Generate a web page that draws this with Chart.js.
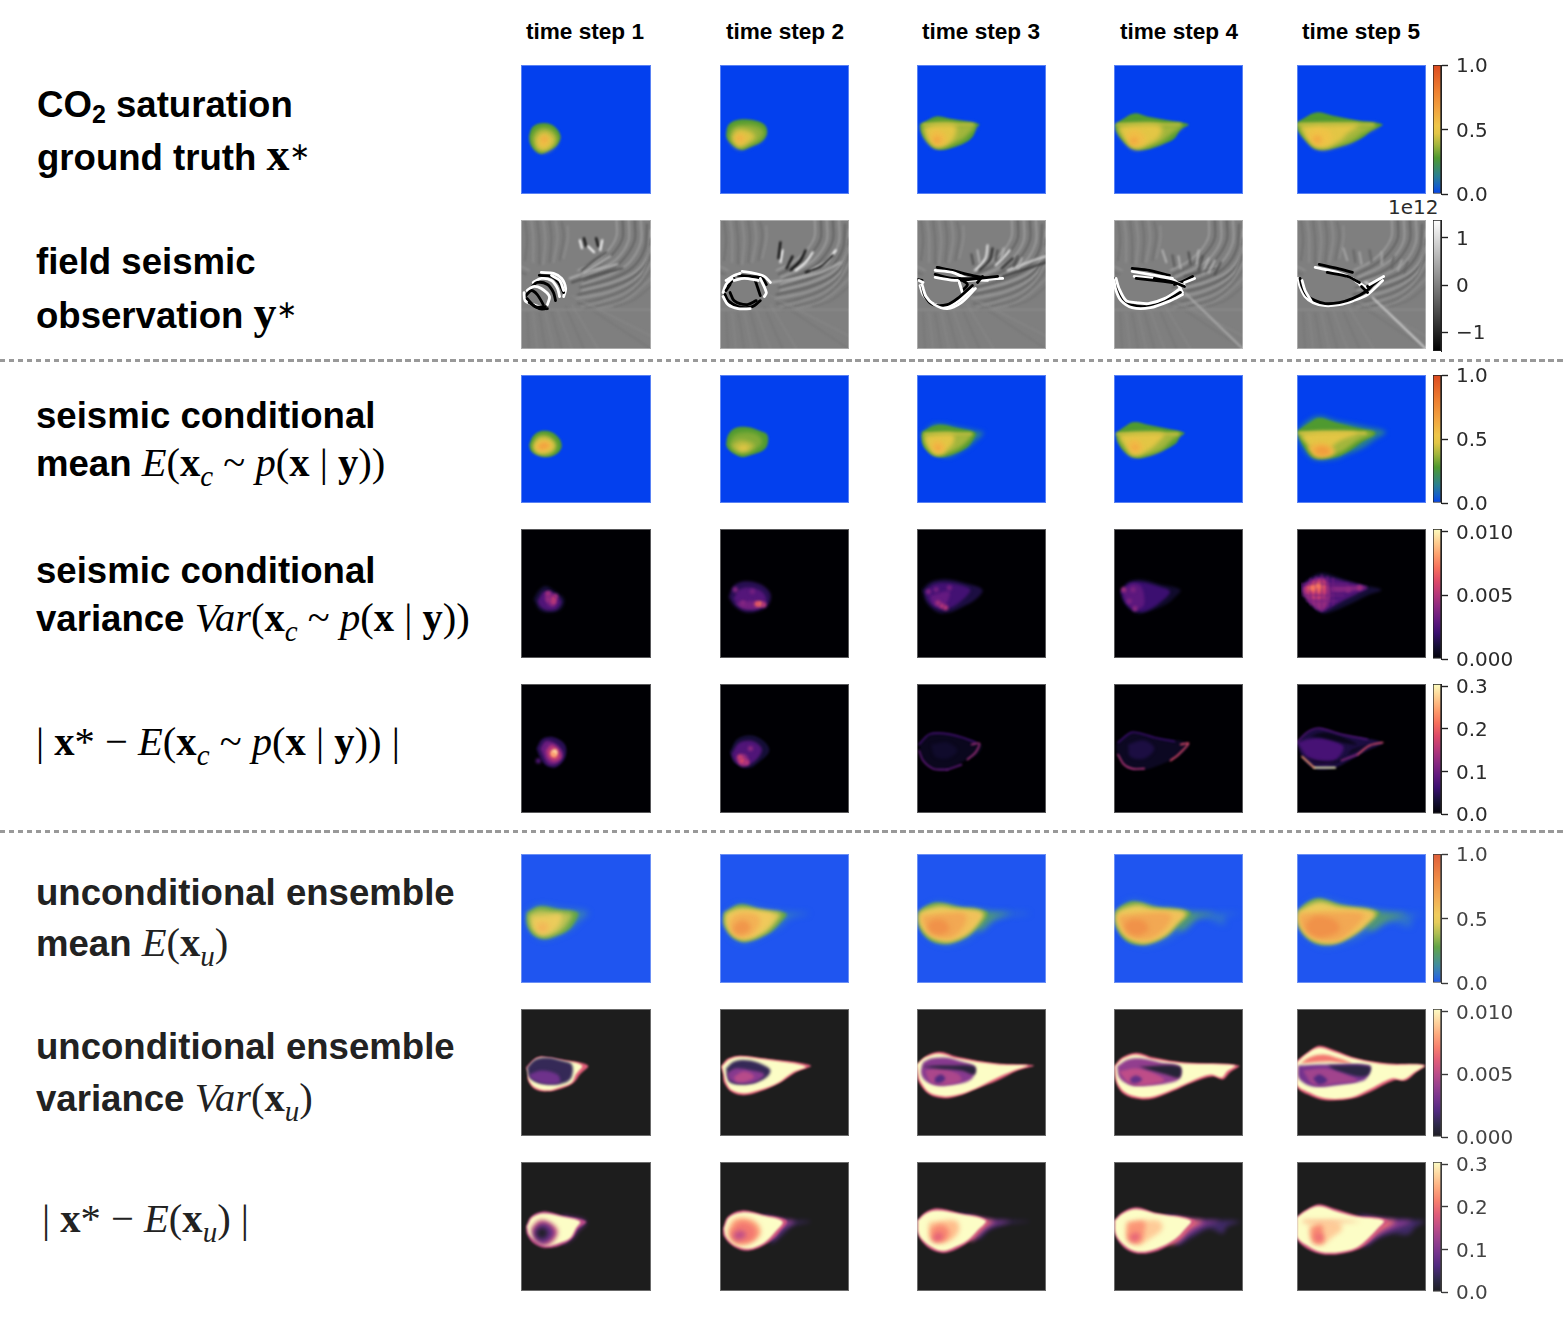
<!DOCTYPE html>
<html>
<head>
<meta charset="utf-8">
<script src="https://cdn.jsdelivr.net/npm/chart.js@4"></script>
<style>
  html, body { margin: 0; padding: 0; background: #fff; }
  #page { position: relative; width: 1564px; height: 1328px; overflow: hidden; }
  .panel { position: absolute; overflow: hidden; outline: 1px solid rgba(255,255,255,.35); outline-offset: -1px; }
  .panel canvas, .cbar canvas { display: block; }
  .cbar { position: absolute; }
  .head { position: absolute; top: 32px; width: 200px; text-align: center; font: bold 22.6px "Liberation Sans", sans-serif; line-height: 0; color: #000; }
  .lab { position: absolute; left: 37px; white-space: nowrap; font: bold 36.6px "Liberation Sans", sans-serif; line-height: 0; color: #000; }
  .lab.soft { color: #222; }
  .m { font: normal 40.6px "Liberation Serif", serif; line-height: 0; }
  .m.big { font-size: 46px; }
  .m i { font-style: italic; }
  .m b { font-weight: bold; }
  .m sub { font: italic 29px "Liberation Serif", serif; line-height: 0; vertical-align: -10px; }
  .star { font: normal 25px "DejaVu Sans", sans-serif; line-height: 0; position: relative; top: -10px; }
  .dash { position: absolute; left: 0; width: 1564px; height: 2.5px; background: repeating-linear-gradient(90deg, #999 0 5.5px, transparent 5.5px 9px); }
  .exp { position: absolute; left: 1388px; top: 207px; font: 20px "DejaVu Sans", sans-serif; line-height: 0; color: #2b2b2b; }
</style>
</head>
<body>
<div id="page">
  <div class="head" style="left:485px">time step 1</div>
  <div class="head" style="left:685px">time step 2</div>
  <div class="head" style="left:881px">time step 3</div>
  <div class="head" style="left:1079px">time step 4</div>
  <div class="head" style="left:1261px">time step 5</div>

  <div class="lab" style="top:105px">CO<span style="font-size:25px;vertical-align:-6px;line-height:0">2</span> saturation</div>
  <div class="lab" style="top:155px">ground truth <span class="m big"><b>x</b><span class="star">∗</span></span></div>
  <div class="lab" style="top:262px;left:36px">field seismic</div>
  <div class="lab" style="top:313px;left:36px">observation <span class="m big"><b>y</b><span class="star">∗</span></span></div>
  <div class="lab" style="top:416px;left:36px">seismic conditional</div>
  <div class="lab" style="top:463px;left:36px">mean <span class="m"><i>E</i>(<b>x</b><sub>c</sub> ~ <i>p</i>(<b>x</b> | <b>y</b>))</span></div>
  <div class="lab" style="top:571px;left:36px">seismic conditional</div>
  <div class="lab" style="top:618px;left:36px">variance <span class="m"><i>Var</i>(<b>x</b><sub>c</sub> ~ <i>p</i>(<b>x</b> | <b>y</b>))</span></div>
  <div class="lab" style="top:742px;left:36px"><span class="m">| <b>x</b>* − <i>E</i>(<b>x</b><sub>c</sub> ~ <i>p</i>(<b>x</b> | <b>y</b>)) |</span></div>
  <div class="lab soft" style="top:893px;left:36px">unconditional ensemble</div>
  <div class="lab soft" style="top:943px;left:36px">mean <span class="m"><i>E</i>(<b>x</b><sub>u</sub>)</span></div>
  <div class="lab soft" style="top:1047px;left:36px">unconditional ensemble</div>
  <div class="lab soft" style="top:1098px;left:36px">variance <span class="m"><i>Var</i>(<b>x</b><sub>u</sub>)</span></div>
  <div class="lab soft" style="top:1219px;left:42px"><span class="m">| <b>x</b>* − <i>E</i>(<b>x</b><sub>u</sub>) |</span></div>

  <div class="dash" style="top:359px"></div>
  <div class="dash" style="top:830px"></div>
  <div class="exp">1e12</div>
</div>

<script>
// colour maps (position in 0..1, colour)
const plumeLevels = [0, 0.06, 0.14, 0.28, 0.38, 0.47, 0.53, 0.66, 0.8, 1];
const plumeColors = ['#0340ee', '#1560c8', '#2a7f90', '#4f9a30', '#a3b63c', '#e3c645', '#efc648', '#f2a23f', '#ee7f30', '#dc4a20'];
const magmaLevels = [0, 0.1, 0.2, 0.3, 0.4, 0.5, 0.6, 0.7, 0.8, 0.9, 1];
const magmaColors = ['#000004', '#140e36', '#3b0f70', '#641a80', '#8c2981', '#b73779', '#de4968', '#f7705c', '#fe9f6d', '#fecf92', '#fcfdbf'];
const greyLevels = [0, 1];
const greyColors = ['#000000', '#ffffff'];

// contour layers: first number is the level, then x,y pairs in image cells (0..128, y down)
const truthT1 = [
  [.28, 8,70, 11,62, 18,58, 27,58, 34,62, 39,71, 35,80, 28,84, 20,88, 14,85, 9,78],
  [.38, 11,72, 15,65, 23,62, 31,65, 36,73, 32,81, 22,86, 14,82],
  [.46, 14,74, 20,67, 28,68, 33,75, 27,83, 18,84],
  [.55, 18,74, 23,70, 28,75, 24,81, 18,80],
  [.66, 20,73, 23,71, 26,74, 22,77]];
const truthT2 = [
  [.28, 6,70, 8,60, 15,55, 28,54, 41,57, 46,62, 46,70, 40,77, 28,82, 22,84, 14,80, 8,75],
  [.36, 9,70, 12,62, 22,59, 36,60, 44,66, 40,75, 28,80, 20,83, 12,78],
  [.46, 11,72, 17,64, 28,65, 35,71, 28,78, 18,81],
  [.56, 14,73, 19,68, 26,72, 24,77, 18,79],
  [.68, 17,73, 19,71, 22,73, 19,75]];
const truthT3 = [
  [.28, 3,59, 10,55, 19,51, 32,53, 50,56, 62,59, 59,62, 56,70, 50,76, 38,81, 25,84, 16,82, 8,74, 4,66],
  [.38, 4,60, 20,57, 40,58, 58,60, 52,68, 44,75, 30,80, 18,81, 9,73],
  [.47, 7,62, 20,59, 38,60, 38,70, 32,78, 20,81, 11,74],
  [.56, 12,70, 19,64, 28,70, 28,78, 18,80],
  [.66, 16,73, 20,71, 24,74, 21,78, 17,77]];
const truthT4 = [
  [.28, 1,59, 8,54, 20,48, 33,51, 55,55, 74,59, 66,64, 60,73, 50,78, 36,83, 24,84, 15,81, 6,72, 2,65],
  [.38, 2,60, 25,58, 50,59, 68,60, 58,68, 48,76, 34,81, 20,83, 8,72],
  [.47, 4,61, 22,59, 46,60, 46,70, 36,78, 22,82, 10,72],
  [.56, 11,69, 20,64, 30,70, 30,78, 18,81],
  [.66, 16,74, 20,72, 24,75, 21,78, 17,78]];
const truthT5 = [
  [.28, 0,57, 8,52, 20,47, 35,50, 60,55, 85,59, 74,65, 65,72, 52,78, 38,82, 24,84, 16,82, 6,72, 0,63],
  [.38, 0,59, 25,58, 55,59, 80,60, 66,68, 54,76, 38,81, 22,83, 8,72],
  [.47, 3,60, 25,59, 62,59, 50,68, 42,76, 26,82, 10,72],
  [.54, 9,69, 20,62, 34,68, 32,78, 18,81],
  [.64, 15,73, 20,70, 25,74, 22,78, 17,77]];
const truthRims = [[], [], [[.44, 6,59, 56,59]], [[.44, 3,59, 66,59]], [[.44, 1,59, 76,59]]];

const condMeanT1 = [
  [.28, 8,70, 12,61, 20,56, 30,57, 38,64, 40,72, 35,79, 25,82, 16,80, 10,76],
  [.42, 11,71, 15,63, 22,60, 30,63, 35,70, 32,77, 23,80, 14,77],
  [.52, 13,71, 18,65, 27,65, 32,71, 28,76, 20,78, 15,76],
  [.66, 16,71, 22,67, 28,69, 28,72, 22,75, 17,74]];
const condMeanT2 = [
  [.28, 6,70, 8,60, 15,53, 27,52, 40,56, 47,60, 47,70, 42,76, 30,80, 22,82, 13,78, 8,74],
  [.34, 9,68, 14,60, 26,57, 38,60, 42,68, 36,74, 24,79, 14,76],
  [.41, 11,70, 20,65, 32,68, 34,72, 24,77, 15,75],
  [.47, 17,72, 24,70, 29,73, 24,76, 19,75]];
const condMeanT3 = [
  [.28, 5,57, 20,50, 40,53, 58,58, 56,64, 50,72, 36,79, 24,82, 14,79, 6,70],
  [.38, 5,59, 25,57, 45,58, 55,59, 46,70, 32,78, 18,80, 9,71],
  [.47, 8,61, 25,59, 36,60, 36,68, 28,76, 18,79, 10,70],
  [.57, 14,70, 20,65, 27,70, 27,77, 19,78],
  [.65, 17,72, 21,70, 24,74, 21,76]];
const condMeanT4 = [
  [.28, 2,58, 10,52, 20,47, 35,50, 55,54, 70,58, 65,62, 62,68, 52,74, 35,81, 22,83, 12,78, 4,68],
  [.38, 3,59, 25,57, 50,58, 66,59, 58,65, 47,75, 32,80, 17,81, 7,69],
  [.47, 5,60, 28,58, 50,59, 44,67, 36,74, 22,80, 11,70],
  [.57, 13,69, 20,64, 28,70, 27,76, 18,79],
  [.65, 17,72, 21,70, 24,73, 21,75]];
const condMeanT5 = [
  [.28, 0,56, 12,48, 22,43, 40,48, 60,53, 78,58, 66,66, 50,77, 38,82, 17,83, 6,70],
  [.38, 0,58, 25,56, 55,57, 76,58, 60,66, 42,78, 22,80, 9,69],
  [.47, 4,59, 30,57, 60,58, 42,66, 30,74, 14,72],
  [.58, 10,72, 20,68, 32,70, 38,77, 30,82, 18,82],
  [.68, 16,75, 24,71, 32,74, 32,79, 22,80]];
const condMeanTails = [[], [],
  [[.14, 5,58, 18,49, 40,52, 60,56, 66,58, 58,66, 48,74, 30,82, 12,74]], [],
  [[.14, 0,56, 10,46, 22,41, 40,46, 70,52, 88,57, 78,64, 65,73, 48,80, 38,84, 16,84, 4,70]]];
const condMeanRims = [[], [], [[.44, 8,59, 54,59]], [[.45, 3,59, 64,59]], [[.47, 2,58, 68,58]]];

const condVarT1 = [
  [.1, 9,70, 15,60, 22,56, 32,62, 41,70, 38,80, 28,84, 16,82],
  [.25, 13,72, 20,62, 30,64, 38,72, 34,80, 24,82, 16,78],
  [.36, 20,68, 26,62, 32,70, 30,78, 24,76]];
const condVarT2 = [
  [.15, 5,68, 10,56, 22,51, 38,54, 49,64, 47,76, 38,82, 24,84, 12,78],
  [.26, 10,70, 16,60, 30,58, 42,64, 44,74, 30,80, 16,76],
  [.34, 12,74, 30,72, 44,74, 36,80, 20,80]];
const condVarT3 = [
  [.12, 1,60, 10,52, 26,49, 46,53, 65,60, 58,70, 44,78, 30,84, 18,84, 6,74],
  [.22, 4,62, 14,54, 30,53, 50,58, 52,62, 40,74, 28,80, 18,80, 8,72],
  [.3, 10,66, 30,62, 26,76, 18,78, 12,74]];
const condVarT4 = [
  [.08, 2,62, 10,52, 24,49, 44,54, 66,60, 60,68, 50,76, 30,84, 18,85, 6,74],
  [.2, 3,62, 12,53, 26,52, 42,56, 55,62, 44,74, 28,83, 18,82, 8,74],
  [.28, 5,62, 14,54, 24,56, 28,70, 26,78, 16,80, 8,72]];
const condVarT5 = [
  [.1, 0,56, 10,47, 22,42, 40,47, 60,54, 85,60, 70,66, 50,76, 36,82, 22,85, 10,76, 0,64],
  [.25, 0,56, 12,48, 24,46, 42,50, 70,58, 60,64, 44,72, 30,80, 22,83, 10,74],
  [.38, 32,56, 70,57, 50,62, 32,62],
  [.42, 2,58, 12,50, 24,48, 30,56, 30,72, 22,82, 10,74, 2,64],
  [.54, 4,58, 14,51, 24,50, 28,58, 24,68, 14,70, 5,62],
  [.66, 6,58, 14,54, 24,54, 22,62, 12,62]];
const condVarRims = [[], [], [], [],
  [[.34, 10,48, 10,76], [.34, 16,46, 16,80], [.34, 22,44, 22,83], [.34, 28,46, 28,78], [.34, 34,48, 34,76],
   [.34, 0,54, 50,54], [.34, 2,66, 45,66], [.34, 6,72, 38,72]]];

const condErrT1 = [
  [.15, 12,64, 18,54, 30,52, 42,60, 42,74, 32,84, 22,82, 16,74],
  [.32, 16,64, 22,56, 34,60, 40,70, 34,80, 24,80],
  [.5, 22,66, 28,60, 36,66, 38,74, 30,78, 24,74],
  [.7, 26,68, 32,64, 34,70, 32,74, 28,72]];
const condErrT2 = [
  [.1, 6,68, 14,54, 28,50, 42,56, 48,66, 40,76, 26,85, 12,80],
  [.25, 8,70, 16,58, 30,56, 40,64, 36,74, 24,82, 12,78],
  [.42, 14,72, 22,70, 26,78, 20,83, 14,78]];
const condErrT3 = [
  [.05, 2,60, 12,50, 26,49, 45,53, 64,60, 60,70, 48,76, 30,85, 16,84, 6,76],
  [.08, 14,60, 30,58, 40,66, 30,74, 18,72]];
const condErrT4 = [
  [.06, 2,60, 18,48, 40,53, 74,59, 64,72, 46,80, 30,85, 14,84, 4,72],
  [.12, 14,60, 30,56, 40,64, 30,74, 16,72]];
const condErrT5 = [
  [.12, 0,58, 10,48, 22,44, 44,50, 85,58, 70,66, 52,76, 38,83, 18,84, 6,74],
  [.23, 0,58, 14,54, 30,54, 46,62, 40,74, 28,80, 12,74],
  [.04, 12,52, 26,48, 44,52, 60,60, 44,58, 24,53],
  [.04, 55,65, 70,60, 60,66, 50,70],
  [.05, 8,72, 20,76, 40,76, 50,72, 40,78, 20,79]];

const uncMeanT1 = [
  [.28, 6,58, 18,52, 38,55, 56,58, 54,66, 46,76, 32,82, 22,84, 12,80, 6,70],
  [.4, 7,60, 18,55, 36,58, 50,59, 48,66, 40,76, 28,81, 18,81, 10,74],
  [.5, 10,62, 28,60, 40,60, 38,70, 30,78, 20,80, 12,73],
  [.58, 14,70, 20,66, 28,70, 26,77, 17,78],
  [.66, 18,73, 21,71, 24,74, 20,76]];
const uncMeanT2 = [
  [.28, 4,58, 20,50, 40,55, 66,59, 60,68, 48,79, 25,87, 12,82, 4,70],
  [.46, 5,59, 20,53, 42,57, 60,59, 56,67, 45,78, 26,85, 13,80, 5,70],
  [.54, 7,60, 25,56, 52,59, 50,67, 41,77, 24,84, 12,78],
  [.64, 9,66, 18,59, 36,60, 40,68, 33,79, 20,83, 11,76],
  [.76, 13,72, 20,66, 28,68, 30,75, 22,80, 14,78]];
const uncMeanT3 = [
  [.28, 1,58, 8,52, 20,48, 40,52, 70,58, 64,68, 52,80, 38,87, 26,89, 12,85, 2,72],
  [.5, 2,58, 10,54, 24,51, 40,54, 66,58, 62,68, 51,79, 36,86, 26,87, 13,82, 3,70],
  [.58, 3,60, 30,57, 63,59, 58,68, 47,80, 30,85, 12,80, 4,68],
  [.68, 5,62, 30,59, 48,60, 46,72, 33,83, 14,79, 7,68],
  [.78, 10,70, 18,65, 28,67, 32,75, 24,80, 14,78]];
const uncMeanT4 = [
  [.28, 1,57, 8,51, 20,47, 40,52, 76,58, 66,68, 54,80, 38,88, 26,90, 12,86, 2,72],
  [.5, 2,58, 10,53, 24,50, 40,54, 72,58, 64,68, 52,80, 36,87, 26,88, 13,83, 3,70],
  [.58, 3,60, 32,57, 69,59, 61,68, 49,80, 30,87, 12,81, 4,68],
  [.68, 5,62, 32,59, 56,60, 52,72, 35,84, 14,80, 7,68],
  [.78, 10,70, 18,65, 30,67, 34,75, 24,81, 14,78]];
const uncMeanT5 = [
  [.28, 1,56, 10,48, 22,44, 42,50, 82,58, 74,66, 60,78, 44,87, 26,90, 12,85, 1,70],
  [.5, 1,57, 12,50, 24,47, 42,52, 78,58, 71,67, 59,78, 42,86, 26,88, 13,83, 2,70],
  [.58, 2,58, 40,55, 76,59, 67,70, 53,80, 34,88, 12,82, 3,68],
  [.68, 3,60, 40,58, 66,60, 58,72, 41,85, 16,82, 4,70],
  [.78, 8,70, 18,62, 38,66, 42,76, 24,83, 12,79]];
const uncMeanTails = [
  [[.1, 5,58, 18,51, 40,54, 66,58, 58,66, 50,74, 36,81, 20,84, 8,74]],
  [[.08, 4,60, 20,50, 45,55, 70,58, 88,59, 70,63, 60,72, 40,82, 24,88, 10,80]],
  [[.08, 2,58, 20,48, 45,53, 72,57, 112,59, 85,62, 70,70, 50,84, 28,90, 8,80], [.2, 50,54, 72,58, 92,59, 76,64, 62,76]],
  [[.06, 1,58, 18,46, 45,52, 75,58, 125,59, 110,62, 110,70, 85,62, 75,70, 55,84, 30,91, 10,82], [.2, 50,54, 80,58, 100,59, 82,64, 66,76]],
  [[.06, 1,56, 20,44, 50,50, 85,57, 126,60, 115,62, 112,72, 95,68, 80,72, 60,84, 28,92, 10,84, 1,72], [.2, 60,54, 88,58, 108,60, 90,66, 72,76]]];

const uncVarT1 = [
  [.6, 5,59, 14,50, 22,48, 40,51, 66,57, 58,66, 52,74, 40,80, 26,83, 14,81, 7,72, 7,64],
  [1, 6,60, 14,51, 22,49, 40,52, 60,57, 54,66, 50,74, 38,79, 26,82, 14,79, 8,72],
  [.12, 6,59, 14,51, 26,49, 40,52, 50,56, 50,68, 44,74, 30,76, 16,74, 8,68],
  [.28, 8,66, 20,62, 36,66, 38,74, 22,75, 10,70]];
const uncVarT2 = [
  [.6, 1,58, 8,50, 20,47, 45,50, 90,57, 75,64, 60,74, 40,83, 24,87, 12,84, 4,74, 3,65],
  [1, 2,58, 9,51, 20,48, 45,51, 85,58, 72,64, 58,74, 38,82, 24,85, 12,82, 6,74, 4,66],
  [.12, 6,60, 14,53, 30,52, 46,58, 50,62, 47,68, 36,74, 22,76, 10,74, 7,66],
  [.35, 7,65, 15,60, 32,62, 44,66, 36,73, 22,75, 10,72],
  [.48, 14,68, 24,63, 34,68, 26,73, 16,73]];
const uncVarT3 = [
  [.6, 0,56, 8,48, 22,43, 40,48, 80,55, 116,57, 100,62, 80,72, 60,80, 40,88, 26,90, 12,86, 2,74, 0,66],
  [1, 0,56, 8,49, 22,45, 40,50, 80,56, 110,57, 96,62, 78,70, 58,80, 38,87, 26,88, 12,84, 3,72, 1,64],
  [.35, 6,54, 14,50, 28,49, 44,53, 57,58, 56,68, 50,73, 36,76, 20,77, 8,72, 4,64],
  [.45, 8,62, 20,60, 40,65, 44,72, 30,76, 14,74],
  [.2, 18,69, 24,66, 28,70, 24,74, 18,74],
  [.06, 4,58, 30,57, 57,58, 57,66, 44,62, 20,60]];
const uncVarT4 = [
  [.6, 0,58, 8,49, 22,44, 40,49, 70,54, 124,57, 115,64, 108,71, 98,68, 78,74, 58,83, 40,90, 26,91, 10,86, 2,74],
  [1, 1,58, 9,50, 22,46, 40,51, 70,55, 120,57, 112,63, 107,69, 96,66, 76,73, 56,82, 40,88, 26,89, 11,84, 3,73],
  [.38, 3,58, 14,51, 28,50, 46,54, 65,58, 65,70, 52,75, 34,77, 18,77, 6,70],
  [.5, 5,63, 22,60, 40,65, 50,72, 34,76, 16,75],
  [.25, 16,70, 22,67, 28,71, 22,75, 17,74],
  [.05, 25,58, 65,58, 65,69, 52,66, 34,61]];
const uncVarT5 = [
  [.6, 0,52, 10,44, 22,37, 36,41, 60,50, 90,55, 128,57, 118,64, 108,72, 96,72, 72,84, 56,90, 28,92, 10,86, 0,78],
  [1, 0,54, 10,45, 22,39, 36,43, 60,51, 90,56, 126,57, 116,64, 106,71, 94,70, 70,82, 54,89, 28,90, 12,84, 0,76],
  [.68, 3,55, 14,48, 28,46, 42,50, 54,55, 30,53],
  [.3, 1,57, 30,56, 72,57, 71,66, 66,72, 44,76, 16,78, 2,70],
  [.42, 6,62, 30,60, 50,66, 60,72, 40,75, 16,76],
  [.2, 16,70, 22,66, 30,72, 22,76],
  [.08, 30,57, 72,58, 71,66, 62,68, 40,62]];

const uncErrT1 = [
  [.5, 5,64, 10,54, 22,49, 40,53, 64,59, 56,66, 50,76, 38,83, 24,85, 12,80, 6,72],
  [1, 6,64, 11,55, 22,51, 40,54, 58,59, 54,66, 48,76, 36,81, 24,83, 14,78, 8,72],
  [.55, 10,66, 18,58, 28,60, 36,68, 32,78, 24,83, 14,78],
  [.25, 12,68, 19,61, 27,62, 33,70, 30,76, 22,81, 14,76],
  [.02, 15,69, 20,65, 25,67, 26,73, 21,76, 16,74]];
const uncErrT2 = [
  [.55, 3,66, 8,54, 22,48, 42,52, 66,58, 60,68, 48,80, 28,88, 14,84, 4,74],
  [1, 4,66, 9,55, 22,50, 42,53, 62,59, 56,68, 44,80, 28,86, 14,82, 6,74],
  [.8, 8,68, 14,57, 28,56, 38,62, 40,72, 30,80, 18,82, 10,76],
  [.68, 10,70, 18,60, 28,60, 36,68, 32,78, 18,80, 12,76],
  [.5, 13,72, 20,68, 26,72, 22,76, 16,77]];
const uncErrT3 = [
  [.55, 0,58, 8,50, 20,46, 40,50, 70,58, 62,68, 52,79, 36,88, 24,90, 10,84, 1,72],
  [1, 1,58, 9,51, 20,48, 40,51, 68,58, 60,68, 50,78, 34,86, 24,88, 11,82, 2,72],
  [.85, 12,60, 38,58, 42,66, 36,76, 24,80, 13,76],
  [.72, 14,66, 24,62, 32,68, 28,78, 16,78],
  [.6, 16,74, 22,70, 26,74, 22,78, 17,78]];
const uncErrT4 = [
  [.55, 0,58, 8,50, 22,45, 40,50, 80,58, 74,66, 62,78, 44,88, 24,91, 10,85, 1,72],
  [1, 1,58, 9,51, 22,47, 40,51, 76,58, 70,67, 60,77, 42,86, 24,89, 11,83, 2,72],
  [.88, 12,60, 44,58, 48,66, 36,76, 24,82, 14,76],
  [.75, 14,60, 30,59, 30,70, 26,80, 14,78],
  [.62, 15,74, 22,70, 26,74, 22,79, 17,78]];
const uncErrT5 = [
  [.55, 0,54, 10,47, 22,42, 36,46, 60,53, 90,58, 82,67, 68,82, 54,89, 28,92, 10,86, 0,76],
  [1, 0,55, 10,48, 22,44, 36,48, 58,54, 86,58, 80,66, 66,80, 54,87, 28,90, 12,84, 0,74],
  [.88, 12,62, 40,60, 45,66, 36,74, 24,82, 14,76],
  [.72, 14,66, 24,62, 26,72, 26,80, 16,80],
  [.64, 17,74, 22,71, 26,75, 22,79],
  [.78, 6,58, 40,58, 62,59, 40,60, 6,60]];
const uncErrTails = [
  [[.3, 40,53, 64,59, 56,68, 50,76, 40,80]],
  [[.15, 40,52, 66,58, 90,59, 72,63, 62,72, 50,80], [.4, 46,54, 66,58, 74,59, 62,66, 52,76]],
  [[.15, 40,50, 70,57, 112,59, 90,61, 72,67, 60,76], [.35, 50,53, 72,58, 92,59, 74,63, 64,70, 54,78], [.65, 54,54, 70,58, 76,59, 68,64, 60,72, 52,78]],
  [[.15, 50,52, 80,57, 125,59, 112,64, 108,71, 95,66, 78,74, 62,82], [.35, 56,54, 82,58, 104,59, 90,63, 74,72, 60,80], [.65, 60,55, 80,58, 88,59, 76,66, 64,78, 54,82]],
  [[.15, 60,52, 90,56, 127,59, 118,64, 110,72, 96,71, 80,76, 66,84], [.35, 66,54, 92,58, 114,59, 100,65, 82,72, 68,80], [.65, 70,56, 90,58, 98,59, 84,68, 70,78, 60,84]]];

// hot spots in the conditional rows: level, x, y
const condVarSpots = [
  [[.55, 30,70], [.45, 24,64], [.45, 32,67], [.42, 25,70], [.5, 30,73]],
  [[.72, 38,75], [.64, 35,75], [.52, 42,76], [.38, 12,60], [.38, 20,74], [.34, 30,62]],
  [[.5, 22,77], [.45, 18,74], [.5, 26,79], [.36, 8,62], [.34, 16,60], [.34, 30,58]],
  [[.45, 6,60], [.4, 18,80], [.36, 12,72], [.36, 16,60]],
  [[.45, 62,58], [.4, 50,60], [.72, 12,58], [.72, 18,56]]];
const condErrSpots = [
  [[1, 31,68], [.25, 14,77], [.8, 30,70]],
  [[.6, 19,77], [.55, 17,73], [.5, 24,79], [.4, 28,64]],
  [], [], []];

// thin rims of the error maps at later steps: level, x,y pairs
const condErrRims = [
  [], [],
  [[.22, 2,60, 12,50, 26,49, 45,53, 58,58], [.3, 2,66, 6,76, 16,84, 30,85], [.45, 54,60, 62,59, 58,68, 50,75], [.3, 30,85, 44,80]],
  [[.2, 4,58, 18,48, 40,53, 60,57], [.5, 4,70, 10,80, 18,84, 30,84], [.6, 66,60, 74,59, 64,70, 56,76]],
  [[1, 17,83, 38,83], [.8, 5,72, 17,83], [.62, 60,70, 72,61, 85,58], [.4, 44,76, 60,70], [.25, 0,58, 10,48, 22,44, 44,50, 70,55]]];

// seismic image, grey level 0 = black, 1 = white
const seisBackground = [
  [.64, 94,0, 94,16, 86,30, 72,42, 56,50], [.36, 100,0, 100,18, 90,34, 76,45, 58,54],
  [.64, 106,0, 106,20, 95,38, 80,48, 60,57], [.36, 112,0, 112,20, 100,40, 85,51, 62,60],
  [.64, 118,0, 118,22, 106,43, 88,54, 60,64], [.36, 124,4, 122,28, 110,47, 90,58, 58,67],
  [.64, 128,10, 125,35, 112,52, 90,62, 60,70], [.36, 128,18, 124,42, 110,57, 87,67, 56,74],
  [.62, 128,26, 122,48, 108,62, 85,72, 55,78], [.4, 128,34, 120,55, 104,68, 82,77, 56,83],
  [.58, 128,42, 118,60, 102,73, 80,81, 60,86], [.43, 128,50, 116,66, 100,78, 78,85, 62,89],
  [.56, 128,58, 112,73, 96,83, 76,88], [.45, 128,66, 110,80, 92,86],
  [.43, 4,0, 6,20, 4,40], [.57, 10,0, 12,16, 12,42], [.43, 16,0, 18,20, 18,44], [.57, 22,0, 24,20, 22,44],
  [.43, 28,0, 30,18, 28,42], [.57, 34,0, 36,18, 32,42], [.43, 40,2, 42,16, 38,40], [.57, 46,6, 46,20, 42,38],
  [.58, 0,46, 8,50], [.42, 0,52, 5,54],
  [.47, 6,92, 8,128], [.53, 12,92, 16,128], [.47, 18,92, 24,128], [.53, 24,92, 32,128], [.47, 30,90, 40,128],
  [.53, 36,90, 50,128], [.47, 44,86, 62,128], [.53, 50,84, 76,128], [.47, 56,80, 128,128], [.53, 50,75, 128,115],
  [.55, 0,89, 128,89]];
const seisHeavyT1 = [
  [1, 20,52, 32,53, 40,58, 44,68, 42,76], [0, 18,55, 30,56, 37,62, 42,72],
  [1, 12,62, 20,58, 30,60, 36,68, 38,76], [0, 10,67, 16,62, 26,64, 32,72, 34,80],
  [1, 6,70, 12,66, 20,68, 28,76, 26,84], [0, 4,76, 10,70, 16,74, 22,84],
  [1, 3,72, 4,80, 12,84, 24,88], [0, 6,78, 14,86, 24,86],
  [1, 30,55, 38,60, 42,70], [0, 8,82, 18,88, 26,88]];
const seisHeavyT2 = [
  [1, 22,51, 34,53, 44,56, 50,62], [0, 18,55, 30,56, 42,58, 46,64], [0, 35,60, 40,75],
  [1, 40,58, 46,72, 44,76], [1, 6,60, 14,55, 20,53], [0, 8,65, 14,58], [1, 3,72, 6,64, 12,58],
  [0, 5,74, 8,80, 18,86, 32,86, 40,80], [1, 3,76, 8,84, 18,88, 30,88], [0, 10,72, 14,80, 26,84, 36,80],
  [1, 14,60, 24,58, 38,60], [0, 6,70, 10,64]];
const seisHeavyT3 = [
  [0, 20,47, 35,50, 50,54, 70,58], [1, 18,50, 35,52, 50,58, 70,60], [0, 18,54, 35,58, 60,58],
  [1, 18,57, 40,60, 85,58], [0, 42,58, 50,64, 45,70], [1, 42,62, 45,72], [0, 65,56, 60,62],
  [0, 0,59, 5,60], [1, 2,60, 6,62], [1, 3,65, 6,74, 14,82, 30,86, 42,80, 55,68],
  [0, 5,65, 8,76, 16,84, 30,84, 40,78, 55,65], [1, 5,64, 9,76, 17,84, 30,88, 44,82, 58,68],
  [0, 44,60, 62,58, 80,56]];
const seisHeavyT4 = [
  [0, 18,48, 35,50, 55,55], [1, 18,51, 35,54, 58,58], [1, 20,56, 40,58, 60,60, 68,72],
  [0, 22,58, 40,60, 58,62], [0, 60,64, 70,60, 78,56], [1, 62,62, 70,65],
  [0, 1,58, 3,66, 8,78, 20,85, 38,85, 55,78, 66,72], [1, 2,58, 5,68, 12,80, 22,82, 34,83, 50,78, 66,68],
  [1, 0,60, 2,70, 7,80, 18,87, 36,87, 56,80, 68,74], [0, 40,58, 60,62, 70,66], [1, 70,62, 80,58]];
const seisHeavyT5 = [
  [0, 22,44, 40,48, 55,52], [1, 18,47, 40,52, 55,58, 60,62], [1, 55,58, 70,68], [0, 70,66, 85,57],
  [1, 62,64, 70,70], [1, 1,58, 3,66, 8,76, 16,82, 28,85, 42,84, 56,80, 70,74, 85,60],
  [0, 3,58, 5,66, 10,75, 18,80, 28,83, 42,82, 55,78, 68,71, 80,60],
  [0, 30,52, 50,56, 62,62], [1, 72,64, 86,56], [0, 64,66, 70,72], [1, 5,60, 8,70, 14,80]];
const seisThinT1 = [
  [1, 58,20, 60,28], [0, 62,18, 64,26], [1, 66,26, 72,32], [0, 74,18, 76,26], [1, 80,20, 78,30],
  [.3, 60,50, 72,40, 84,32], [.7, 62,52, 75,44, 88,36], [.7, 48,58, 70,50, 95,44], [.3, 50,62, 75,54, 100,48]];
const seisThinT2 = [
  [0, 70,50, 80,40, 85,30], [1, 75,50, 85,42, 92,32], [1, 60,42, 62,30], [0, 58,38, 60,22], [0, 66,48, 72,36],
  [1, 90,50, 105,42, 115,30], [0, 85,52, 100,46, 112,35], [.7, 50,62, 75,58, 100,52, 120,42]];
const seisThinT3 = [
  [.9, 58,50, 68,38, 70,25], [.15, 62,50, 72,40, 75,28], [.9, 78,45, 88,35, 92,30], [.15, 84,48, 95,38],
  [.85, 90,50, 110,42, 128,36], [.2, 85,56, 110,48, 128,42], [.3, 54,34, 56,44], [.7, 60,30, 62,42],
  [.3, 80,30, 78,40], [.7, 86,28, 84,38], [.3, 100,36, 96,46], [.7, 104,38, 100,48]];
const seisThinT4 = [
  [.7, 48,30, 52,42], [.35, 58,35, 60,46], [.7, 64,36, 66,48], [.3, 74,32, 76,44], [.7, 84,30, 82,44],
  [.3, 88,36, 84,50], [.7, 94,38, 88,52], [.35, 70,56, 100,48], [.7, 100,40, 94,52], [.3, 106,42, 100,54],
  [.66, 70,72, 128,128]];
const seisThinT5 = [
  [.65, 46,28, 50,40], [.4, 56,30, 58,42], [.65, 62,32, 64,44], [.4, 72,30, 74,42], [.65, 84,32, 84,44],
  [.4, 96,36, 94,48], [.65, 104,40, 100,50], [.4, 110,42, 106,52], [.8, 75,77, 128,128], [.9, 68,62, 76,66]];

// colour bar ticks
const barTicks = [
  { values: [0, 0.5, 1], labels: ['0.0', '0.5', '1.0'], min: 0, max: 1 },
  { values: [-1, 0, 1], labels: ['\u22121', '0', '1'], min: -1.4, max: 1.38 },
  { values: [0, 0.5, 1], labels: ['0.0', '0.5', '1.0'], min: 0, max: 1 },
  { values: [0, 0.005, 0.01], labels: ['0.000', '0.005', '0.010'], min: 0, max: 0.0102 },
  { values: [0, 0.1, 0.2, 0.3], labels: ['0.0', '0.1', '0.2', '0.3'], min: 0, max: 0.305 },
  { values: [0, 0.5, 1], labels: ['0.0', '0.5', '1.0'], min: 0, max: 1 },
  { values: [0, 0.005, 0.01], labels: ['0.000', '0.005', '0.010'], min: 0, max: 0.0102 },
  { values: [0, 0.1, 0.2, 0.3], labels: ['0.0', '0.1', '0.2', '0.3'], min: 0, max: 0.305 }
];

const plume = { levels: plumeLevels, colors: plumeColors };
const magma = { levels: magmaLevels, colors: magmaColors };
const grey = { levels: greyLevels, colors: greyColors };

function hexRgb(h) {
  return [parseInt(h.slice(1, 3), 16), parseInt(h.slice(3, 5), 16), parseInt(h.slice(5, 7), 16)];
}

function colorAt(map, v) {
  const { levels, colors } = map;
  for (let i = 1; i < levels.length; i++) {
    if (v <= levels[i]) {
      const t = (v - levels[i - 1]) / (levels[i] - levels[i - 1]);
      const a = hexRgb(colors[i - 1]), b = hexRgb(colors[i]);
      return `rgb(${a.map((c, k) => Math.round(c + (b[k] - c) * t)).join(',')})`;
    }
  }
  return colors[colors.length - 1];
}

function toPoints(flat) {
  const pts = [];
  for (let i = 0; i < flat.length; i += 2) pts.push({ x: flat[i], y: flat[i + 1] });
  return pts;
}

function fillDataset(layer, map, soft) {
  const pts = toPoints(layer.slice(1));
  pts.push(pts[0]);
  return { data: pts, soft, showLine: true, fill: 'shape', backgroundColor: colorAt(map, layer[0]), borderWidth: 0, pointRadius: 0, tension: 0.35 };
}

function lineDataset(layer, map, width, soft) {
  return { data: toPoints(layer.slice(1)), soft, showLine: true, fill: false, borderColor: colorAt(map, layer[0]), borderWidth: width, pointRadius: 0, tension: 0.3, borderCapStyle: 'round' };
}

function spotDataset(spot, map) {
  return { data: [{ x: spot[1], y: spot[2] }], soft: 1.4, showLine: false, pointRadius: 2.6, pointBorderWidth: 0, pointBackgroundColor: colorAt(map, spot[0]) };
}

// blur each dataset by itself so the nested contours melt into each other
function setSoft(chart, i) {
  const d = chart.data.datasets[i];
  chart.ctx.filter = d && d.soft ? `blur(${d.soft}px)` : 'none';
}
const softLayers = {
  id: 'softLayers',
  beforeDatasetsDraw(chart) { setSoft(chart, chart.data.datasets.length - 1); },
  afterDatasetDraw(chart, args) { setSoft(chart, args.index - 1); },
  afterDatasetsDraw(chart) { chart.ctx.filter = 'none'; }
};

// one row per line of the figure
const rows = [
  { top: 65, h: 129, barH: 129, bg: '#0340ee', map: plume, edge: 1.2, inner: 2.6, edgeLayers: 1, rimSoft: 1.5, rimWidth: 2, fills: [truthT1, truthT2, truthT3, truthT4, truthT5], rims: truthRims },
  { top: 220, h: 129, barH: 131, bg: '#7f7f7f', map: grey, seismic: true },
  { top: 375, h: 128, barH: 128, bg: '#0340ee', map: plume, edge: 1.2, inner: 2.2, edgeLayers: 1, tailSoft: 2.5, rimSoft: 1.5, rimWidth: 2, fills: [condMeanT1, condMeanT2, condMeanT3, condMeanT4, condMeanT5], tails: condMeanTails, rims: condMeanRims },
  { top: 529, h: 129, barH: 130, bg: '#000004', map: magma, edge: 1.6, inner: 1.8, edgeLayers: 1, rimSoft: 1, rimWidth: 1, fills: [condVarT1, condVarT2, condVarT3, condVarT4, condVarT5], spots: condVarSpots, rims: condVarRims },
  { top: 684, h: 129, barH: 130, bg: '#000004', map: magma, edge: 1.3, inner: 1.6, edgeLayers: 1, rimSoft: 0.9, rimWidth: 1.6, fills: [condErrT1, condErrT2, condErrT3, condErrT4, condErrT5], spots: condErrSpots, rims: condErrRims },
  { top: 854, h: 129, barH: 129, bg: '#0340ee', map: plume, edge: 1.4, inner: 2.6, edgeLayers: 1, tailSoft: 3, wash: true, fills: [uncMeanT1, uncMeanT2, uncMeanT3, uncMeanT4, uncMeanT5], tails: uncMeanTails },
  { top: 1009, h: 127, barH: 128, bg: '#000000', map: magma, edge: 0.9, inner: 1.4, edgeLayers: 2, wash: true, fills: [uncVarT1, uncVarT2, uncVarT3, uncVarT4, uncVarT5] },
  { top: 1162, h: 129, barH: 130, bg: '#000000', map: magma, edge: 1, inner: 2.6, edgeLayers: 2, tailSoft: 2.5, wash: true, fills: [uncErrT1, uncErrT2, uncErrT3, uncErrT4, uncErrT5], tails: uncErrTails }
];
const colX = [521, 720, 917, 1114, 1297];
const seisHeavy = [seisHeavyT1, seisHeavyT2, seisHeavyT3, seisHeavyT4, seisHeavyT5];
const seisThin = [seisThinT1, seisThinT2, seisThinT3, seisThinT4, seisThinT5];
const page = document.getElementById('page');

function drawPanel(row, col) {
  const div = document.createElement('div');
  div.className = 'panel';
  const w = col === 0 ? 130 : 129;
  div.style.cssText = `left:${colX[col]}px;top:${row.top}px;width:${w}px;height:${row.h}px;background:${row.bg};opacity:${row.wash ? 0.89 : 1}`;
  const canvas = document.createElement('canvas');
  canvas.width = w;
  canvas.height = row.h;
  div.appendChild(canvas);
  page.appendChild(div);

  let sets = [];
  if (row.seismic) {
    sets = seisBackground.map(l => lineDataset(l, grey, 1.5, 0.8))
      .concat(seisThin[col].map(l => lineDataset(l, grey, 2, 0.8)))
      .concat(seisHeavy[col].map(l => lineDataset(l, grey, 2.8, 0.7)));
  } else {
    if (row.tails) sets = row.tails[col].map(l => fillDataset(l, row.map, row.tailSoft));
    sets = sets.concat(row.fills[col].map((l, i) => fillDataset(l, row.map, i < row.edgeLayers ? row.edge : row.inner)));
    if (row.rims) sets = sets.concat(row.rims[col].map(l => lineDataset(l, row.map, row.rimWidth, row.rimSoft)));
    if (row.spots) sets = sets.concat(row.spots[col].map(s => spotDataset(s, row.map)));
  }
  // chart.js paints the first dataset last
  sets.reverse();

  new Chart(canvas, {
    type: 'scatter',
    data: { datasets: sets },
    plugins: [softLayers],
    options: {
      responsive: false,
      animation: false,
      devicePixelRatio: 1,
      events: [],
      layout: { padding: 0 },
      plugins: { legend: { display: false }, tooltip: { enabled: false } },
      scales: {
        x: { type: 'linear', min: 0, max: 128, display: false },
        y: { type: 'linear', min: 0, max: 128, reverse: true, display: false }
      }
    }
  });
}

function drawBar(row, ticks) {
  const pad = 16;
  const div = document.createElement('div');
  div.className = 'cbar';
  div.style.cssText = `left:1433px;top:${row.top - pad}px;opacity:${row.wash ? 0.89 : 1}`;
  const canvas = document.createElement('canvas');
  canvas.width = 120;
  canvas.height = row.barH + 2 * pad;
  div.appendChild(canvas);
  page.appendChild(div);

  new Chart(canvas, {
    type: 'bar',
    data: {
      labels: ['scale'],
      datasets: [{
        data: [[ticks.min, ticks.max]],
        barPercentage: 1,
        categoryPercentage: 1,
        borderWidth: 1,
        borderColor: '#222',
        borderSkipped: false,
        backgroundColor(ctx) {
          const area = ctx.chart.chartArea;
          if (!area) return '#888';
          const g = ctx.chart.ctx.createLinearGradient(0, area.bottom, 0, area.top);
          row.map.levels.forEach((lv, i) => g.addColorStop(lv, row.map.colors[i]));
          return g;
        }
      }]
    },
    options: {
      responsive: false,
      animation: false,
      devicePixelRatio: 1,
      events: [],
      layout: { padding: { top: pad, bottom: pad } },
      plugins: { legend: { display: false }, tooltip: { enabled: false } },
      scales: {
        x: { display: false },
        y: {
          position: 'right',
          min: ticks.min,
          max: ticks.max,
          afterBuildTicks(axis) { axis.ticks = ticks.values.map(value => ({ value })); },
          afterFit(axis) { axis.width = 112; axis.paddingTop = 0; axis.paddingBottom = 0; },
          grid: { drawOnChartArea: false, tickLength: 7, tickColor: '#222', tickWidth: 1.4 },
          border: { color: '#222', width: 1 },
          ticks: {
            autoSkip: false,
            padding: 8,
            labelOffset: 2,
            color: '#2b2b2b',
            font: { family: 'DejaVu Sans', size: 20 },
            callback(value, i) { return ticks.labels[i]; }
          }
        }
      }
    }
  });
}

rows.forEach((row, r) => {
  colX.forEach((x, c) => drawPanel(row, c));
  drawBar(row, barTicks[r]);
});
</script>
</body>
</html>
